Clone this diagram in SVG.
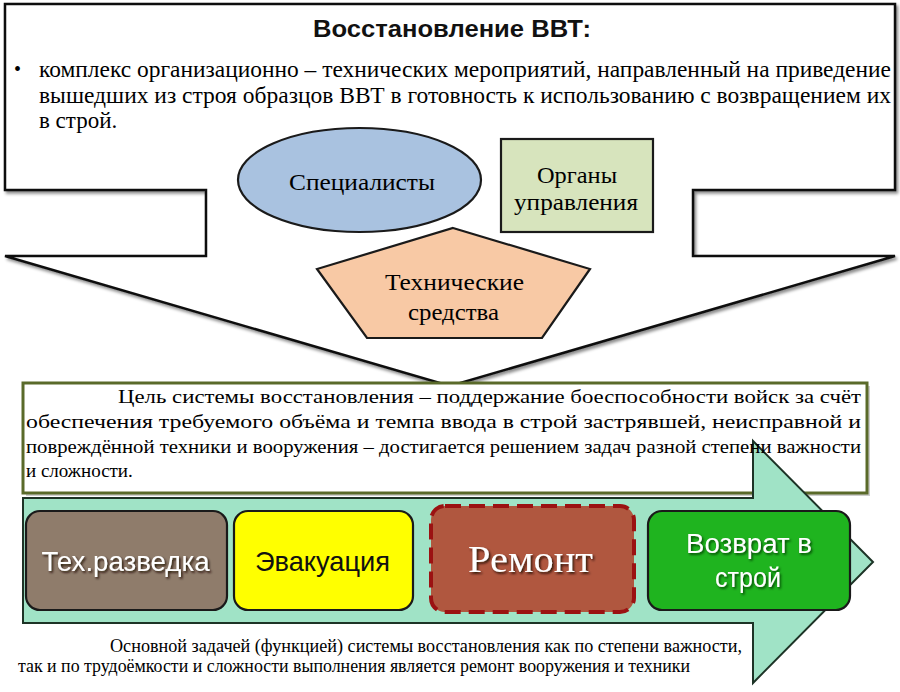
<svg xmlns="http://www.w3.org/2000/svg" width="900" height="692" viewBox="0 0 900 692">
<defs>
<style>
.serif{font-family:"Liberation Serif","Times New Roman",serif;fill:#000}
.sans{font-family:"Liberation Sans",Arial,sans-serif}
.lbl{font-family:"Liberation Serif","Times New Roman",serif;font-size:24px;fill:#000;text-anchor:middle}
.box{stroke:#1a1a1a;stroke-width:2.2}
.wtxt{fill:#fff;text-anchor:middle}
</style>
<filter id="sh" x="-5%" y="-5%" width="110%" height="115%">
<feDropShadow dx="2" dy="2.5" stdDeviation="1.5" flood-color="#000" flood-opacity="0.45"/>
</filter>
<filter id="tsh" x="-10%" y="-20%" width="120%" height="150%">
<feDropShadow dx="1.5" dy="1.8" stdDeviation="0.8" flood-color="#1a0d05" flood-opacity="0.9"/>
</filter>
<filter id="gsh" x="-10%" y="-20%" width="120%" height="150%">
<feDropShadow dx="1.5" dy="1.8" stdDeviation="0.8" flood-color="#064006" flood-opacity="0.9"/>
</filter>
</defs>
<rect width="900" height="692" fill="#fff"/>

<g id="main-arrow">
<path d="M5,4 H895 V190 H693 V256 H895 L450,386 L5,256 H206 V190 H5 Z" fill="#fff" stroke="#111" stroke-width="2.5" filter="url(#sh)"/>
<text class="sans" x="452" y="37" font-size="23" font-weight="bold" fill="#111" text-anchor="middle" textLength="278" lengthAdjust="spacingAndGlyphs">Восстановление ВВТ:</text>
<text class="serif" x="14" y="76" font-size="20">•</text>
<text class="serif" x="39" y="77" font-size="23" textLength="852" lengthAdjust="spacingAndGlyphs">комплекс организационно – технических мероприятий, направленный на приведение</text>
<text class="serif" x="39" y="103" font-size="23" textLength="852" lengthAdjust="spacingAndGlyphs">вышедших из строя образцов ВВТ в готовность к использованию с возвращением их</text>
<text class="serif" x="39" y="128" font-size="23">в строй.</text>
</g>

<g id="specialists">
<ellipse cx="359.5" cy="180" rx="121.5" ry="52" fill="#a9c2e0" class="box"/>
<text class="lbl" x="362" y="190" textLength="146" lengthAdjust="spacingAndGlyphs">Специалисты</text>
</g>

<g id="organs">
<rect x="501" y="139" width="152" height="93" fill="#d7e4bd" class="box"/>
<text class="lbl" x="577" y="183" textLength="80" lengthAdjust="spacingAndGlyphs">Органы</text>
<text class="lbl" x="576" y="210" textLength="124" lengthAdjust="spacingAndGlyphs">управления</text>
</g>

<g id="tech-means">
<polygon points="453,228 590,269 542,338 367,338 317,269" fill="#f8c9a5" class="box"/>
<text class="lbl" x="454.5" y="290" textLength="139" lengthAdjust="spacingAndGlyphs">Технические</text>
<text class="lbl" x="453.5" y="320" textLength="91" lengthAdjust="spacingAndGlyphs">средства</text>
</g>

<g id="goal-box">
<rect x="26" y="386" width="844" height="110" fill="#999" opacity="0.5"/>
<rect x="23" y="383" width="844" height="110" fill="#fff" stroke="#5a6a2a" stroke-width="3"/>
</g>

<g id="process-arrow">
<path d="M23,498 H753 V441 L873,562 L753,683 V623 H23 Z" fill="#a0e3c6" stroke="#1d3326" stroke-width="2"/>
</g>

<g id="goal-text">
<text class="serif" x="118" y="403" font-size="19" textLength="743" lengthAdjust="spacingAndGlyphs">Цель системы восстановления – поддержание боеспособности войск за счёт</text>
<text class="serif" x="26" y="428" font-size="19" textLength="835" lengthAdjust="spacingAndGlyphs">обеспечения требуемого объёма и темпа ввода в строй застрявшей, неисправной и</text>
<text class="serif" x="26" y="453" font-size="19" textLength="835" lengthAdjust="spacingAndGlyphs">повреждённой техники и вооружения – достигается решением задач разной степени важности</text>
<text class="serif" x="26" y="477" font-size="19">и сложности.</text>
</g>

<g id="recon">
<rect x="26" y="511" width="201" height="99" rx="14" fill="#8f7c6b" class="box"/>
<text class="sans wtxt" x="125.5" y="571" font-size="28" textLength="168" lengthAdjust="spacingAndGlyphs" filter="url(#tsh)">Тех.разведка</text>
</g>

<g id="evacuation">
<rect x="234" y="511" width="179" height="99" rx="14" fill="#ffff00" class="box"/>
<text class="sans" x="322.5" y="571" font-size="28" fill="#111" text-anchor="middle" textLength="135" lengthAdjust="spacingAndGlyphs">Эвакуация</text>
</g>

<g id="repair">
<rect x="431" y="506" width="203" height="106" rx="14" fill="#b0573f" stroke="#9b1212" stroke-width="4" stroke-dasharray="16 8"/>
<text class="serif wtxt" x="530.5" y="572" font-size="38" textLength="125" lengthAdjust="spacingAndGlyphs" style="fill:#fff" filter="url(#tsh)">Ремонт</text>
</g>

<g id="return">
<rect x="648" y="511" width="202" height="99" rx="14" fill="#1fb41f" class="box"/>
<text class="sans wtxt" x="749" y="553" font-size="27" textLength="126" lengthAdjust="spacingAndGlyphs" filter="url(#gsh)">Возврат в</text>
<text class="sans wtxt" x="748" y="587" font-size="27" textLength="66" lengthAdjust="spacingAndGlyphs" filter="url(#gsh)">строй</text>
</g>

<g id="bottom-text">
<text class="serif" x="110" y="652" font-size="18" textLength="632" lengthAdjust="spacingAndGlyphs">Основной задачей (функцией) системы восстановления как по степени важности,</text>
<text class="serif" x="18" y="672" font-size="18" textLength="672" lengthAdjust="spacingAndGlyphs">так и по трудоёмкости и сложности выполнения является ремонт вооружения и техники</text>
</g>
</svg>
